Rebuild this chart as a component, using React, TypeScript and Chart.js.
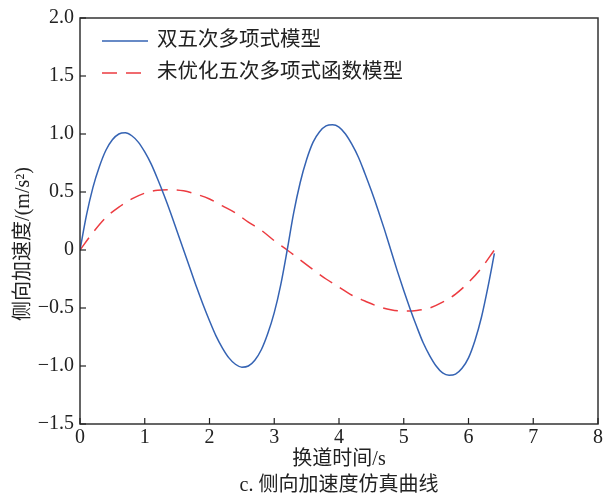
import { useEffect, useRef } from "react";
import { Chart, registerables } from "chart.js";
Chart.register(...registerables);

const FONT = '"Liberation Serif", "Noto Sans CJK SC", serif';

const seriesNames = ["双五次多项式模型", "未优化五次多项式函数模型"];
const xTitle = "换道时间/s";
const yTitle = "侧向加速度/(m/s²)";
const caption = "c. 侧向加速度仿真曲线";

const blueTimes = [
  0, 0.1, 0.2, 0.3, 0.4, 0.5, 0.6, 0.7, 0.8, 0.9, 1.0, 1.1, 1.2, 1.3, 1.4, 1.5, 1.6,
  1.7, 1.8, 1.9, 2.0, 2.1, 2.2, 2.3, 2.4, 2.5, 2.6, 2.7, 2.8, 2.9, 3.0, 3.1, 3.2,
  3.3, 3.4, 3.5, 3.6, 3.7, 3.8, 3.9, 4.0, 4.1, 4.2, 4.3, 4.4, 4.5, 4.6, 4.7, 4.8,
  4.9, 5.0, 5.1, 5.2, 5.3, 5.4, 5.5, 5.6, 5.7, 5.8, 5.9, 6.0, 6.1, 6.2, 6.3, 6.4,
];
const blueValues = [
  0, 0.30, 0.54, 0.72, 0.86, 0.95, 1.00, 1.01, 0.985, 0.93, 0.845, 0.74, 0.61, 0.47, 0.32, 0.16, 0,
  -0.16, -0.32, -0.47, -0.61, -0.74, -0.845, -0.93, -0.985, -1.01, -1.00, -0.95, -0.86, -0.72, -0.54, -0.30, 0,
  0.32, 0.58, 0.78, 0.93, 1.02, 1.07, 1.08, 1.06, 1.00, 0.91, 0.80, 0.66, 0.51, 0.35, 0.18, 0,
  -0.18, -0.35, -0.51, -0.66, -0.80, -0.91, -1.00, -1.06, -1.08, -1.07, -1.02, -0.93, -0.78, -0.58, -0.32, -0.03,
];

const redTimes = [
  0, 0.2, 0.4, 0.6, 0.8, 1.0, 1.2, 1.4, 1.6, 1.8, 2.0, 2.2, 2.4, 2.6, 2.8, 3.0, 3.2,
  3.4, 3.6, 3.8, 4.0, 4.2, 4.4, 4.6, 4.8, 5.0, 5.2, 5.4, 5.6, 5.8, 6.0, 6.2, 6.4,
];
const redValues = [
  0, 0.15, 0.28, 0.37, 0.44, 0.49, 0.515, 0.52, 0.51, 0.48, 0.44, 0.38, 0.32, 0.24, 0.17, 0.08, 0,
  -0.085, -0.17, -0.25, -0.32, -0.39, -0.44, -0.485, -0.515, -0.527, -0.522, -0.50, -0.45, -0.38, -0.28, -0.155, 0,
];

const yTickLabels: Record<string, string> = {
  "2": "2.0", "1.5": "1.5", "1": "1.0", "0.5": "0.5", "0": "0",
  "-0.5": "−0.5", "-1": "−1.0", "-1.5": "−1.5",
};

const BLUE = "#3563b3";
const RED = "#ec3b40";
const INK = "#222222";

const decorPlugin = {
  id: "decor",
  afterDraw(chart: any) {
    const { ctx, chartArea: a, scales } = chart;
    ctx.save();
    // frame
    ctx.strokeStyle = "#333";
    ctx.lineWidth = 1.5;
    ctx.strokeRect(a.left, a.top, a.right - a.left, a.bottom - a.top);
    // inward ticks
    ctx.lineWidth = 1.2;
    ctx.strokeStyle = "#222";
    scales.x.ticks.forEach((t: any) => {
      const px = scales.x.getPixelForValue(t.value);
      ctx.beginPath();
      ctx.moveTo(px, a.bottom);
      ctx.lineTo(px, a.bottom - 6);
      ctx.stroke();
    });
    scales.y.ticks.forEach((t: any) => {
      const py = scales.y.getPixelForValue(t.value);
      ctx.beginPath();
      ctx.moveTo(a.left, py);
      ctx.lineTo(a.left + 6, py);
      ctx.stroke();
    });
    // legend
    const ds = chart.data.datasets;
    const rows = [41, 73];
    ds.forEach((d: any, i: number) => {
      const y = rows[i];
      ctx.beginPath();
      ctx.strokeStyle = d.borderColor;
      ctx.lineWidth = 1.5;
      ctx.setLineDash(d.borderDash || []);
      ctx.moveTo(102, y);
      ctx.lineTo(148, y);
      ctx.stroke();
      ctx.setLineDash([]);
      ctx.fillStyle = INK;
      ctx.font = `20.5px ${FONT}`;
      ctx.textAlign = "left";
      ctx.textBaseline = "middle";
      ctx.fillText(d.label, 157, y);
    });
    // axis titles and caption
    ctx.fillStyle = INK;
    ctx.font = `20px ${FONT}`;
    ctx.textAlign = "center";
    ctx.textBaseline = "middle";
    ctx.fillText(xTitle, (a.left + a.right) / 2, 460);
    ctx.fillText(caption, (a.left + a.right) / 2, 486);
    ctx.save();
    ctx.translate(24, 244);
    ctx.rotate(-Math.PI / 2);
    ctx.fillText(yTitle, 0, 0);
    ctx.restore();
    ctx.restore();
  },
};

export default function App() {
  const ref = useRef<HTMLCanvasElement | null>(null);
  useEffect(() => {
    if (!ref.current) return;
    const chart = new Chart(ref.current, {
      type: "line",
      data: {
        datasets: [
          {
            label: seriesNames[0],
            data: blueTimes.map((t, i) => ({ x: t, y: blueValues[i] })),
            borderColor: BLUE,
            borderWidth: 1.5,
            pointRadius: 0,
            cubicInterpolationMode: "monotone",
            fill: false,
          },
          {
            label: seriesNames[1],
            data: redTimes.map((t, i) => ({ x: t, y: redValues[i] })),
            borderColor: RED,
            borderWidth: 1.5,
            borderDash: [15, 9],
            pointRadius: 0,
            cubicInterpolationMode: "monotone",
            fill: false,
          },
        ],
      },
      options: {
        responsive: false,
        animation: false,
        layout: { padding: { left: 0, right: 17, top: 14, bottom: 0 } },
        plugins: { legend: { display: false }, tooltip: { enabled: false } },
        scales: {
          x: {
            type: "linear",
            min: 0,
            max: 8,
            afterFit: (s: any) => { s.height = 72; },
            ticks: {
              stepSize: 1,
              padding: 2,
              color: INK,
              font: { family: FONT, size: 20 },
              maxRotation: 0,
            },
            grid: { display: false, drawTicks: false },
            border: { display: false },
          },
          y: {
            type: "linear",
            min: -1.5,
            max: 2,
            afterFit: (s: any) => { s.width = 80; },
            ticks: {
              stepSize: 0.5,
              padding: 6,
              color: INK,
              font: { family: FONT, size: 20 },
              callback: (v: any) => yTickLabels[String(v)] ?? String(v),
            },
            grid: { display: false, drawTicks: false },
            border: { display: false },
          },
        },
      },
      plugins: [decorPlugin],
    });
    return () => chart.destroy();
  }, []);
  return (
    <div style={{ position: "fixed", left: 0, top: 0, width: 615, height: 496, background: "#fff" }}>
      <canvas ref={ref} width={615} height={496} />
    </div>
  );
}
